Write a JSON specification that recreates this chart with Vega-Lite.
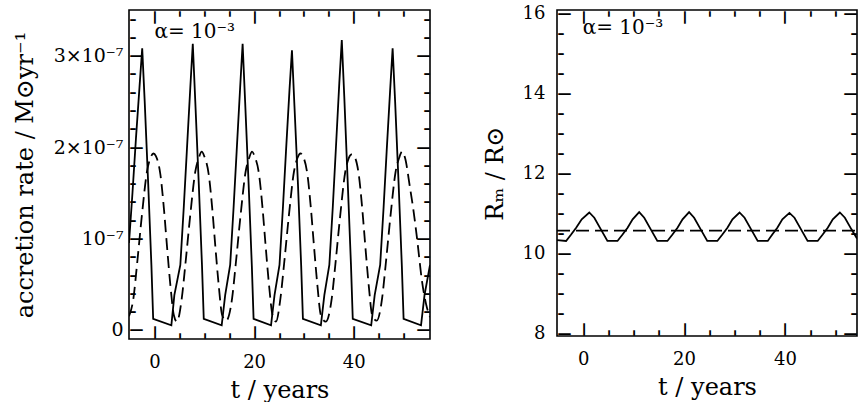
{
  "$schema": "https://vega.github.io/schema/vega-lite/v6.json",
  "background": "white",
  "padding": {"left": 12, "top": 3, "right": 0, "bottom": 0},
  "spacing": 51,
  "config": {
    "view": {"stroke": "black", "strokeWidth": 1.6},
    "axis": {"grid": false, "domain": false, "ticks": false, "labelOverlap": false, "labelFlush": false, "labelFont": "DejaVu Serif", "titleFont": "DejaVu Serif", "labelColor": "black", "titleColor": "black", "labelFontSize": 18, "titleFontSize": 24, "titleFontWeight": "normal"},
    "line": {"color": "black", "strokeWidth": 1.8}
  },
  "datasets": {
    "rateSolid": [
      {"t": -5.1, "rate": 0.95e-7}, {"t": -4.4, "rate": 1.5e-7}, {"t": -3.7, "rate": 2.1e-7}, {"t": -3.0, "rate": 2.65e-7}, {"t": -2.45, "rate": 3.08e-7},
      {"t": -1.95, "rate": 2.5e-7}, {"t": -1.25, "rate": 1.6e-7}, {"t": -0.6, "rate": 0.7e-7}, {"t": -0.25, "rate": 0.12e-7}, {"t": 3.4, "rate": 0.05e-7},
      {"t": 4.0, "rate": 0.38e-7}, {"t": 5.2, "rate": 0.71e-7}, {"t": 5.9, "rate": 1.35e-7}, {"t": 6.5, "rate": 1.95e-7}, {"t": 7.2, "rate": 2.65e-7}, {"t": 7.7, "rate": 3.13e-7},
      {"t": 8.2, "rate": 2.5e-7}, {"t": 8.9, "rate": 1.6e-7}, {"t": 9.55, "rate": 0.7e-7}, {"t": 9.9, "rate": 0.12e-7}, {"t": 13.5, "rate": 0.05e-7},
      {"t": 14.2, "rate": 0.38e-7}, {"t": 15.2, "rate": 0.71e-7}, {"t": 15.9, "rate": 1.35e-7}, {"t": 16.5, "rate": 1.95e-7}, {"t": 17.2, "rate": 2.65e-7}, {"t": 17.7, "rate": 3.13e-7},
      {"t": 18.2, "rate": 2.5e-7}, {"t": 18.9, "rate": 1.6e-7}, {"t": 19.55, "rate": 0.7e-7}, {"t": 19.9, "rate": 0.12e-7}, {"t": 23.4, "rate": 0.05e-7},
      {"t": 24.1, "rate": 0.38e-7}, {"t": 25.1, "rate": 0.71e-7}, {"t": 25.8, "rate": 1.35e-7}, {"t": 26.4, "rate": 1.95e-7}, {"t": 27.1, "rate": 2.62e-7}, {"t": 27.6, "rate": 3.06e-7},
      {"t": 28.1, "rate": 2.45e-7}, {"t": 28.8, "rate": 1.6e-7}, {"t": 29.45, "rate": 0.7e-7}, {"t": 29.8, "rate": 0.12e-7}, {"t": 33.4, "rate": 0.05e-7},
      {"t": 34.1, "rate": 0.38e-7}, {"t": 35.1, "rate": 0.71e-7}, {"t": 35.8, "rate": 1.35e-7}, {"t": 36.4, "rate": 1.97e-7}, {"t": 37.1, "rate": 2.7e-7}, {"t": 37.6, "rate": 3.17e-7},
      {"t": 38.1, "rate": 2.55e-7}, {"t": 38.8, "rate": 1.6e-7}, {"t": 39.45, "rate": 0.7e-7}, {"t": 39.8, "rate": 0.12e-7}, {"t": 43.5, "rate": 0.05e-7},
      {"t": 44.2, "rate": 0.38e-7}, {"t": 45.3, "rate": 0.71e-7}, {"t": 46.0, "rate": 1.35e-7}, {"t": 46.6, "rate": 1.95e-7}, {"t": 47.3, "rate": 2.62e-7}, {"t": 47.8, "rate": 3.08e-7},
      {"t": 48.3, "rate": 2.5e-7}, {"t": 49.0, "rate": 1.6e-7}, {"t": 49.65, "rate": 0.7e-7}, {"t": 50.0, "rate": 0.12e-7}, {"t": 53.5, "rate": 0.05e-7},
      {"t": 54.2, "rate": 0.38e-7}, {"t": 55.3, "rate": 0.71e-7}
    ],
    "rateDashed": [
      {"t": -5.1, "rate": 0.15e-7}, {"t": -4.2, "rate": 0.35e-7}, {"t": -3.5, "rate": 0.71e-7}, {"t": -2.5, "rate": 1.26e-7}, {"t": -1.5, "rate": 1.73e-7}, {"t": -0.8, "rate": 1.88e-7}, {"t": -0.2, "rate": 1.93e-7},
      {"t": 0.3, "rate": 1.9e-7}, {"t": 1.2, "rate": 1.7e-7}, {"t": 1.9, "rate": 1.33e-7}, {"t": 2.5, "rate": 0.93e-7}, {"t": 3.2, "rate": 0.49e-7}, {"t": 3.9, "rate": 0.16e-7}, {"t": 4.5, "rate": 0.09e-7},
      {"t": 5.5, "rate": 0.35e-7}, {"t": 6.2, "rate": 0.71e-7}, {"t": 7.2, "rate": 1.26e-7}, {"t": 8.2, "rate": 1.73e-7}, {"t": 8.9, "rate": 1.88e-7}, {"t": 9.5, "rate": 1.95e-7},
      {"t": 10.0, "rate": 1.9e-7}, {"t": 10.9, "rate": 1.7e-7}, {"t": 11.6, "rate": 1.33e-7}, {"t": 12.2, "rate": 0.93e-7}, {"t": 12.9, "rate": 0.49e-7}, {"t": 13.6, "rate": 0.16e-7}, {"t": 14.4, "rate": 0.1e-7},
      {"t": 15.6, "rate": 0.35e-7}, {"t": 16.3, "rate": 0.71e-7}, {"t": 17.3, "rate": 1.26e-7}, {"t": 18.3, "rate": 1.73e-7}, {"t": 19.0, "rate": 1.88e-7}, {"t": 19.6, "rate": 1.95e-7},
      {"t": 20.1, "rate": 1.9e-7}, {"t": 21.0, "rate": 1.7e-7}, {"t": 21.7, "rate": 1.33e-7}, {"t": 22.3, "rate": 0.93e-7}, {"t": 23.0, "rate": 0.49e-7}, {"t": 23.7, "rate": 0.16e-7}, {"t": 24.4, "rate": 0.09e-7},
      {"t": 25.3, "rate": 0.35e-7}, {"t": 26.0, "rate": 0.71e-7}, {"t": 27.0, "rate": 1.26e-7}, {"t": 28.0, "rate": 1.73e-7}, {"t": 28.7, "rate": 1.88e-7}, {"t": 29.3, "rate": 1.93e-7},
      {"t": 29.8, "rate": 1.9e-7}, {"t": 30.7, "rate": 1.7e-7}, {"t": 31.4, "rate": 1.33e-7}, {"t": 32.0, "rate": 0.93e-7}, {"t": 32.7, "rate": 0.49e-7}, {"t": 33.4, "rate": 0.16e-7}, {"t": 34.4, "rate": 0.09e-7},
      {"t": 35.6, "rate": 0.35e-7}, {"t": 36.3, "rate": 0.71e-7}, {"t": 37.3, "rate": 1.26e-7}, {"t": 38.3, "rate": 1.73e-7}, {"t": 39.0, "rate": 1.88e-7}, {"t": 39.6, "rate": 1.92e-7},
      {"t": 40.1, "rate": 1.9e-7}, {"t": 41.0, "rate": 1.7e-7}, {"t": 41.7, "rate": 1.33e-7}, {"t": 42.3, "rate": 0.93e-7}, {"t": 43.0, "rate": 0.49e-7}, {"t": 43.7, "rate": 0.16e-7}, {"t": 44.6, "rate": 0.1e-7},
      {"t": 45.7, "rate": 0.35e-7}, {"t": 46.4, "rate": 0.71e-7}, {"t": 47.4, "rate": 1.26e-7}, {"t": 48.4, "rate": 1.73e-7}, {"t": 49.1, "rate": 1.88e-7}, {"t": 49.7, "rate": 1.95e-7},
      {"t": 50.3, "rate": 1.88e-7}, {"t": 51.3, "rate": 1.55e-7}, {"t": 52.0, "rate": 1.3e-7}, {"t": 52.7, "rate": 1.0e-7}, {"t": 53.7, "rate": 0.53e-7}, {"t": 54.7, "rate": 0.24e-7}, {"t": 55.3, "rate": 0.14e-7}
    ],
    "radiusSolid": [
      {"t": -5.2, "r": 10.34}, {"t": -3.4, "r": 10.32}, {"t": -2.4, "r": 10.48}, {"t": -1.4, "r": 10.65}, {"t": -0.3, "r": 10.86}, {"t": 1.2, "r": 11.03},
      {"t": 2.2, "r": 10.9}, {"t": 3.5, "r": 10.61}, {"t": 4.8, "r": 10.32}, {"t": 6.8, "r": 10.32},
      {"t": 7.8, "r": 10.48}, {"t": 8.8, "r": 10.65}, {"t": 9.8, "r": 10.86}, {"t": 11.1, "r": 11.04},
      {"t": 12.1, "r": 10.9}, {"t": 13.4, "r": 10.61}, {"t": 14.7, "r": 10.32}, {"t": 16.7, "r": 10.32},
      {"t": 17.7, "r": 10.48}, {"t": 18.7, "r": 10.65}, {"t": 19.7, "r": 10.86}, {"t": 21.0, "r": 11.04},
      {"t": 22.0, "r": 10.9}, {"t": 23.3, "r": 10.61}, {"t": 24.6, "r": 10.32}, {"t": 26.6, "r": 10.32},
      {"t": 27.6, "r": 10.48}, {"t": 28.6, "r": 10.65}, {"t": 29.6, "r": 10.86}, {"t": 31.0, "r": 11.03},
      {"t": 32.0, "r": 10.9}, {"t": 33.3, "r": 10.61}, {"t": 34.6, "r": 10.32}, {"t": 36.6, "r": 10.32},
      {"t": 37.5, "r": 10.48}, {"t": 38.5, "r": 10.65}, {"t": 39.5, "r": 10.86}, {"t": 40.9, "r": 11.02},
      {"t": 41.9, "r": 10.9}, {"t": 43.2, "r": 10.61}, {"t": 44.5, "r": 10.32}, {"t": 46.5, "r": 10.32},
      {"t": 47.5, "r": 10.48}, {"t": 48.5, "r": 10.65}, {"t": 49.5, "r": 10.86}, {"t": 50.9, "r": 11.03},
      {"t": 51.9, "r": 10.9}, {"t": 53.2, "r": 10.61}, {"t": 54.3, "r": 10.38}
    ],
    "radiusDashed": [
      {"t": -5.2, "r": 10.58}, {"t": 54.3, "r": 10.58}
    ],
    "label": [
      {"text": "α= 10⁻³"}
    ]
  },
  "hconcat": [
    {
      "width": 301,
      "height": 329,
      "resolve": {"axis": {"x": "independent", "y": "independent"}},
      "layer": [
        {
          "data": {"name": "rateSolid"},
          "mark": {"type": "line", "clip": true},
          "encoding": {
            "x": {"field": "t", "type": "quantitative", "scale": {"domain": [-5.1, 55.3], "nice": false, "zero": false},
              "axis": {"orient": "bottom", "values": [0, 20, 40], "labelPadding": 14, "title": "t / years", "titlePadding": 7}},
            "y": {"field": "rate", "type": "quantitative", "scale": {"domain": [-1e-8, 3.5e-7], "nice": false, "zero": false},
              "axis": {"orient": "left", "values": [0, 1e-7, 2e-7, 3e-7], "labelPadding": 6, "labelFontSize": 19,
                "labelExpr": "datum.value < 0.5e-7 ? '0' : datum.value < 1.5e-7 ? '10⁻⁷' : datum.value < 2.5e-7 ? '2×10⁻⁷' : '3×10⁻⁷'",
                "title": "accretion rate / M⊙yr⁻¹", "titlePadding": 16}}
          }
        },
        {
          "data": {"name": "rateDashed"},
          "mark": {"type": "line", "clip": true, "strokeDash": [12, 6], "interpolate": "monotone"},
          "encoding": {
            "x": {"field": "t", "type": "quantitative", "axis": {"orient": "bottom", "values": [0, 20, 40], "labelExpr": "'—'", "labelFont": "DejaVu Sans", "labelFontWeight": "bold", "labelFontSize": 14, "labelAngle": 270, "labelAlign": "left", "labelBaseline": "middle", "labelPadding": 0, "title": null}},
            "y": {"field": "rate", "type": "quantitative", "axis": {"orient": "left", "values": [0, 1e-7, 2e-7, 3e-7], "labelExpr": "'—'", "labelFont": "DejaVu Sans", "labelFontWeight": "bold", "labelFontSize": 14, "labelAlign": "left", "labelBaseline": "middle", "labelPadding": 0, "title": null}}
          }
        },
        {
          "data": {"name": "label"},
          "mark": {"type": "text", "align": "left", "baseline": "middle", "font": "DejaVu Serif", "fontSize": 20, "color": "black"},
          "encoding": {
            "x": {"datum": 0, "type": "quantitative", "axis": {"orient": "bottom", "values": [5, 10, 15, 25, 30, 35, 45, 50], "labelExpr": "'–'", "labelFont": "DejaVu Sans", "labelFontWeight": "bold", "labelFontSize": 14, "labelAngle": 270, "labelAlign": "left", "labelBaseline": "middle", "labelPadding": 0, "title": null}},
            "y": {"datum": 3.26e-7, "type": "quantitative", "axis": {"orient": "left", "values": [2e-8, 4e-8, 6e-8, 8e-8, 1.2e-7, 1.4e-7, 1.6e-7, 1.8e-7, 2.2e-7, 2.4e-7, 2.6e-7, 2.8e-7, 3.2e-7, 3.4e-7], "labelExpr": "'–'", "labelFont": "DejaVu Sans", "labelFontWeight": "bold", "labelFontSize": 14, "labelAlign": "left", "labelBaseline": "middle", "labelPadding": 0, "title": null}},
            "text": {"field": "text"}
          }
        },
        {
          "data": {"name": "rateSolid"},
          "mark": {"type": "line", "opacity": 0},
          "encoding": {
            "x": {"field": "t", "type": "quantitative", "axis": {"orient": "top", "values": [0, 20, 40], "labelExpr": "'—'", "labelFont": "DejaVu Sans", "labelFontWeight": "bold", "labelFontSize": 14, "labelAngle": 90, "labelAlign": "left", "labelBaseline": "middle", "labelPadding": 0, "title": null}},
            "y": {"field": "rate", "type": "quantitative", "axis": {"orient": "right", "values": [0, 1e-7, 2e-7, 3e-7], "labelExpr": "'—'", "labelFont": "DejaVu Sans", "labelFontWeight": "bold", "labelFontSize": 14, "labelAlign": "right", "labelBaseline": "middle", "labelPadding": 0, "title": null}}
          }
        },
        {
          "data": {"name": "rateSolid"},
          "mark": {"type": "line", "opacity": 0},
          "encoding": {
            "x": {"field": "t", "type": "quantitative", "axis": {"orient": "top", "values": [5, 10, 15, 25, 30, 35, 45, 50], "labelExpr": "'–'", "labelFont": "DejaVu Sans", "labelFontWeight": "bold", "labelFontSize": 14, "labelAngle": 90, "labelAlign": "left", "labelBaseline": "middle", "labelPadding": 0, "title": null}},
            "y": {"field": "rate", "type": "quantitative", "axis": {"orient": "right", "values": [2e-8, 4e-8, 6e-8, 8e-8, 1.2e-7, 1.4e-7, 1.6e-7, 1.8e-7, 2.2e-7, 2.4e-7, 2.6e-7, 2.8e-7, 3.2e-7, 3.4e-7], "labelExpr": "'–'", "labelFont": "DejaVu Sans", "labelFontWeight": "bold", "labelFontSize": 14, "labelAlign": "right", "labelBaseline": "middle", "labelPadding": 0, "title": null}}
          }
        }
      ]
    },
    {
      "width": 300,
      "height": 326,
      "resolve": {"axis": {"x": "independent", "y": "independent"}},
      "layer": [
        {
          "data": {"name": "radiusSolid"},
          "mark": {"type": "line", "clip": true},
          "encoding": {
            "x": {"field": "t", "type": "quantitative", "scale": {"domain": [-5.2, 54.3], "nice": false, "zero": false},
              "axis": {"orient": "bottom", "values": [0, 20, 40], "labelPadding": 14, "title": "t / years", "titlePadding": 7}},
            "y": {"field": "r", "type": "quantitative", "scale": {"domain": [7.95, 16.08], "nice": false, "zero": false},
              "axis": {"orient": "left", "values": [8, 10, 12, 14, 16], "labelPadding": 12, "title": "Rₘ / R⊙", "titlePadding": 15}}
          }
        },
        {
          "data": {"name": "radiusDashed"},
          "mark": {"type": "line", "clip": true, "strokeDash": [13, 6]},
          "encoding": {
            "x": {"field": "t", "type": "quantitative", "axis": {"orient": "bottom", "values": [0, 20, 40], "labelExpr": "'—'", "labelFont": "DejaVu Sans", "labelFontWeight": "bold", "labelFontSize": 14, "labelAngle": 270, "labelAlign": "left", "labelBaseline": "middle", "labelPadding": 0, "title": null}},
            "y": {"field": "r", "type": "quantitative", "axis": {"orient": "left", "values": [8, 10, 12, 14, 16], "labelExpr": "'—'", "labelFont": "DejaVu Sans", "labelFontWeight": "bold", "labelFontSize": 14, "labelAlign": "left", "labelBaseline": "middle", "labelPadding": 0, "title": null}}
          }
        },
        {
          "data": {"name": "label"},
          "mark": {"type": "text", "align": "left", "baseline": "middle", "font": "DejaVu Serif", "fontSize": 20, "color": "black"},
          "encoding": {
            "x": {"datum": -0.1, "type": "quantitative", "axis": {"orient": "bottom", "values": [5, 10, 15, 25, 30, 35, 45, 50], "labelExpr": "'–'", "labelFont": "DejaVu Sans", "labelFontWeight": "bold", "labelFontSize": 14, "labelAngle": 270, "labelAlign": "left", "labelBaseline": "middle", "labelPadding": 0, "title": null}},
            "y": {"datum": 15.62, "type": "quantitative", "axis": {"orient": "left", "values": [8.5, 9, 9.5, 10.5, 11, 11.5, 12.5, 13, 13.5, 14.5, 15, 15.5], "labelExpr": "'–'", "labelFont": "DejaVu Sans", "labelFontWeight": "bold", "labelFontSize": 14, "labelAlign": "left", "labelBaseline": "middle", "labelPadding": 0, "title": null}},
            "text": {"field": "text"}
          }
        },
        {
          "data": {"name": "radiusSolid"},
          "mark": {"type": "line", "opacity": 0},
          "encoding": {
            "x": {"field": "t", "type": "quantitative", "axis": {"orient": "top", "values": [0, 20, 40], "labelExpr": "'—'", "labelFont": "DejaVu Sans", "labelFontWeight": "bold", "labelFontSize": 14, "labelAngle": 90, "labelAlign": "left", "labelBaseline": "middle", "labelPadding": 0, "title": null}},
            "y": {"field": "r", "type": "quantitative", "axis": {"orient": "right", "values": [8, 10, 12, 14, 16], "labelExpr": "'—'", "labelFont": "DejaVu Sans", "labelFontWeight": "bold", "labelFontSize": 14, "labelAlign": "right", "labelBaseline": "middle", "labelPadding": 0, "title": null}}
          }
        },
        {
          "data": {"name": "radiusSolid"},
          "mark": {"type": "line", "opacity": 0},
          "encoding": {
            "x": {"field": "t", "type": "quantitative", "axis": {"orient": "top", "values": [5, 10, 15, 25, 30, 35, 45, 50], "labelExpr": "'–'", "labelFont": "DejaVu Sans", "labelFontWeight": "bold", "labelFontSize": 14, "labelAngle": 90, "labelAlign": "left", "labelBaseline": "middle", "labelPadding": 0, "title": null}},
            "y": {"field": "r", "type": "quantitative", "axis": {"orient": "right", "values": [8.5, 9, 9.5, 10.5, 11, 11.5, 12.5, 13, 13.5, 14.5, 15, 15.5], "labelExpr": "'–'", "labelFont": "DejaVu Sans", "labelFontWeight": "bold", "labelFontSize": 14, "labelAlign": "right", "labelBaseline": "middle", "labelPadding": 0, "title": null}}
          }
        }
      ]
    }
  ]
}
